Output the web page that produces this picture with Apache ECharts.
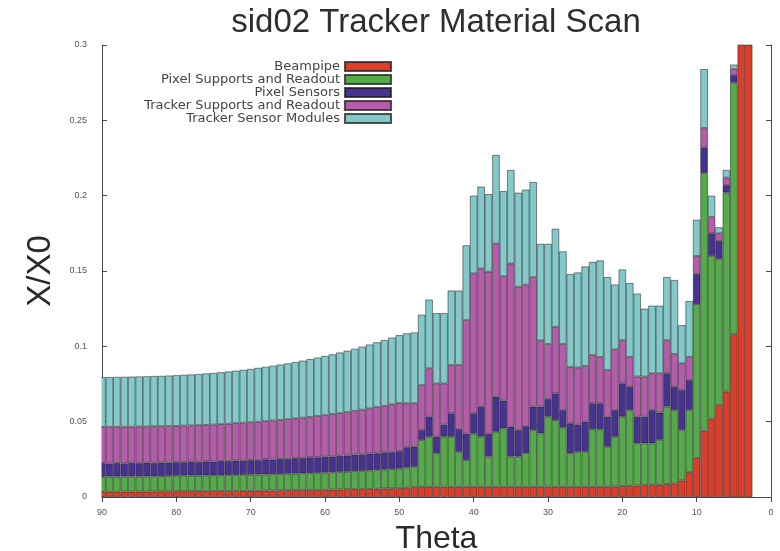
<!DOCTYPE html>
<html>
<head>
<meta charset="utf-8">
<title>sid02 Tracker Material Scan</title>
<script src="https://cdn.jsdelivr.net/npm/echarts@6/dist/echarts.min.js"></script>
<style>
  html, body { margin: 0; padding: 0; background: #ffffff; }
  #chart { width: 780px; height: 551px; }
</style>
</head>
<body>
<div id="chart"></div>
<script>
// Polar angle bins, 1 degree each, from 90 down to 0
const thetaLabels = [
  '90','89','88','87','86','85','84','83','82','81',
  '80','79','78','77','76','75','74','73','72','71',
  '70','69','68','67','66','65','64','63','62','61',
  '60','59','58','57','56','55','54','53','52','51',
  '50','49','48','47','46','45','44','43','42','41',
  '40','39','38','37','36','35','34','33','32','31',
  '30','29','28','27','26','25','24','23','22','21',
  '20','19','18','17','16','15','14','13','12','11',
  '10','9','8','7','6','5','4','3','2','1',
  '0'
];

// Radiation length per bin (X/X0) for each material group, same bin order
const beampipe = [
  .0035,.0035,.0035,.0036,.0036,.0036,.0036,.0037,.0037,.0037,
  .0038,.0038,.0038,.0039,.0039,.0040,.0040,.0040,.0041,.0041,
  .0042,.0042,.0043,.0043,.0044,.0045,.0045,.0046,.0047,.0047,
  .0048,.0049,.0050,.0051,.0052,.0053,.0054,.0055,.0057,.0058,
  .0059,.0061,.0065,.0068,.0068,.0068,.0068,.0068,.0068,.0068,
  .0068,.0068,.0068,.0068,.0068,.0068,.0068,.0068,.0068,.0068,
  .0068,.0068,.0068,.0068,.0068,.0068,.0068,.0068,.0068,.0070,
  .0072,.0074,.0076,.0078,.0080,.0082,.0085,.0090,.0110,.0165,
  .0260,.0440,.0520,.0610,.0700,.1080,.4000,.4000,null,null,
  null
];

const pixelSupports = [
  .0100,.0100,.0100,.0100,.0100,.0100,.0101,.0100,.0101,.0103,
  .0103,.0103,.0104,.0103,.0104,.0104,.0104,.0105,.0105,.0106,
  .0106,.0107,.0107,.0108,.0108,.0109,.0110,.0111,.0111,.0113,
  .0114,.0115,.0116,.0117,.0119,.0120,.0122,.0124,.0125,.0127,
  .0129,.0134,.0136,.0310,.0332,.0222,.0332,.0332,.0232,.0177,
  .0352,.0332,.0200,.0365,.0387,.0200,.0200,.0222,.0376,.0354,
  .0465,.0442,.0392,.0222,.0232,.0232,.0382,.0382,.0266,.0330,
  .0461,.0503,.0280,.0278,.0276,.0298,.0515,.0487,.0335,.0412,
  .1020,.1710,.1080,.0970,.1320,.1670,0,0,null,null,
  null
];

const pixelSensors = [
  .0090,.0087,.0091,.0087,.0091,.0088,.0091,.0088,.0091,.0088,
  .0091,.0089,.0092,.0090,.0093,.0091,.0095,.0093,.0096,.0094,
  .0098,.0096,.0100,.0098,.0102,.0099,.0103,.0101,.0105,.0103,
  .0106,.0105,.0108,.0107,.0110,.0109,.0112,.0111,.0114,.0113,
  .0117,.0135,.0133,.0067,.0133,.0110,.0080,.0155,.0150,.0175,
  .0135,.0199,.0152,.0233,.0185,.0199,.0176,.0180,.0156,.0178,
  .0117,.0178,.0117,.0199,.0180,.0200,.0172,.0172,.0199,.0177,
  .0221,.0155,.0177,.0177,.0221,.0180,.0221,.0155,.0265,.0199,
  .0200,.0170,.0150,.0120,.0050,.0050,0,0,null,null,
  null
];

const trackerSupports = [
  .0240,.0244,.0240,.0244,.0240,.0244,.0240,.0244,.0241,.0243,
  .0240,.0244,.0241,.0245,.0243,.0246,.0245,.0249,.0248,.0252,
  .0250,.0255,.0254,.0259,.0258,.0264,.0264,.0269,.0269,.0275,
  .0276,.0282,.0283,.0289,.0291,.0298,.0300,.0307,.0310,.0317,
  .0319,.0292,.0288,.0298,.0321,.0354,.0274,.0321,.0426,.0755,
  .0929,.0918,.1075,.1017,.0825,.1083,.0952,.0940,.0860,.0440,
  .0366,.0442,.0439,.0376,.0380,.0370,.0320,.0308,.0310,.0403,
  .0286,.0198,.0267,.0267,.0244,.0261,.0219,.0218,.0177,.0154,
  .0120,.0130,.0110,.0050,.0050,.0040,0,0,null,null,
  null
];

const trackerModules = [
  .0330,.0330,.0331,.0331,.0332,.0332,.0333,.0334,.0334,.0335,
  .0336,.0337,.0338,.0339,.0341,.0342,.0344,.0346,.0348,.0351,
  .0354,.0357,.0360,.0363,.0367,.0370,.0374,.0378,.0383,.0387,
  .0392,.0396,.0402,.0407,.0412,.0418,.0424,.0430,.0436,.0443,
  .0451,.0464,.0470,.0467,.0456,.0466,.0466,.0494,.0494,.0495,
  .0516,.0543,.0515,.0587,.0565,.0620,.0624,.0630,.0630,.0640,
  .0664,.0650,.0614,.0615,.0630,.0660,.0618,.0640,.0617,.0430,
  .0470,.0490,.0550,.0450,.0449,.0449,.0420,.0490,.0253,.0370,
  .0240,.0390,.0140,.0040,.0050,.0030,0,0,null,null,
  null
];

const seriesNames = [
  'Beampipe',
  'Pixel Supports and Readout',
  'Pixel Sensors',
  'Tracker Supports and Readout',
  'Tracker Sensor Modules'
];
const seriesValues = [beampipe, pixelSupports, pixelSensors, trackerSupports, trackerModules];
const seriesColors = ['#dd3e2a', '#55ab49', '#45338f', '#b35dab', '#83c9ca'];

const yMin = 0, yMax = 0.3, yStep = 0.05;
const FONT = '"Liberation Sans", Arial, Helvetica, sans-serif';
const LEGEND_FONT = '"DejaVu Sans", "Liberation Sans", sans-serif';
const frameColor = '#4a4a4a';
const labelColor = '#555555';

const chart = echarts.init(document.getElementById('chart'), null, { renderer: 'canvas' });

const tickStyle = { show: true, inside: true, length: 5, lineStyle: { color: frameColor, width: 1 } };

chart.setOption({
  animation: false,
  backgroundColor: '#ffffff',
  title: {
    text: 'sid02 Tracker Material Scan',
    left: 436,
    top: 6,
    padding: 0,
    textAlign: 'center',
    textStyle: { fontFamily: FONT, fontSize: 33, fontWeight: 'normal', color: '#2e2e2e' }
  },
  legend: {
    data: seriesNames,
    orient: 'vertical',
    align: 'right',
    right: 388,
    top: 60,
    padding: 0,
    itemWidth: 46,
    itemHeight: 9,
    itemGap: 0,
    icon: 'rect',
    textStyle: { fontFamily: LEGEND_FONT, fontSize: 13, lineHeight: 12.7, color: '#444444' }
  },
  grid: { left: 102, right: 9, top: 45, bottom: 54, containLabel: false, outerBoundsMode: 'none' },
  // the half-width bin at theta = 90 stops at the left frame
  graphic: [{
    type: 'rect',
    z: 10,
    silent: true,
    shape: { x: 93, y: 44, width: 8.5, height: 454 },
    style: { fill: '#ffffff' }
  }],
  xAxis: [
    {
      type: 'category',
      data: thetaLabels,
      boundaryGap: false,
      position: 'bottom',
      name: 'Theta',
      nameLocation: 'middle',
      nameGap: 26,
      nameTextStyle: { fontFamily: FONT, fontSize: 32, color: '#2a2a2a' },
      axisLine: { show: true, lineStyle: { color: frameColor, width: 1 } },
      axisTick: Object.assign({ interval: 9 }, tickStyle),
      axisLabel: { interval: 9, margin: 11, fontFamily: FONT, fontSize: 9, color: labelColor },
      splitLine: { show: false }
    },
    {
      type: 'category',
      data: thetaLabels,
      boundaryGap: false,
      position: 'top',
      axisLine: { show: true, lineStyle: { color: frameColor, width: 1 } },
      axisTick: Object.assign({ interval: 9 }, tickStyle),
      axisLabel: { show: false },
      splitLine: { show: false }
    }
  ],
  yAxis: [
    {
      type: 'value',
      min: yMin,
      max: yMax,
      interval: yStep,
      position: 'left',
      name: 'X/X0',
      nameLocation: 'middle',
      nameRotate: 90,
      nameGap: 45,
      nameTextStyle: { fontFamily: FONT, fontSize: 33, color: '#2a2a2a' },
      axisLine: { show: true, lineStyle: { color: frameColor, width: 1 } },
      axisTick: tickStyle,
      axisLabel: { margin: 15, fontFamily: FONT, fontSize: 9, color: labelColor },
      splitLine: { show: false }
    },
    {
      type: 'value',
      min: yMin,
      max: yMax,
      interval: yStep,
      position: 'right',
      axisLine: { show: true, lineStyle: { color: frameColor, width: 1 } },
      axisTick: tickStyle,
      axisLabel: { show: false },
      splitLine: { show: false }
    }
  ],
  series: seriesNames.map((name, i) => ({
    name: name,
    type: 'bar',
    stack: 'material',
    xAxisIndex: 0,
    yAxisIndex: 0,
    data: seriesValues[i],
    barWidth: '100%',
    clip: true,
    itemStyle: {
      color: seriesColors[i],
      borderColor: 'rgba(30,30,30,0.75)',
      borderWidth: 0.7
    },
    emphasis: { disabled: true }
  }))
});
</script>
</body>
</html>
